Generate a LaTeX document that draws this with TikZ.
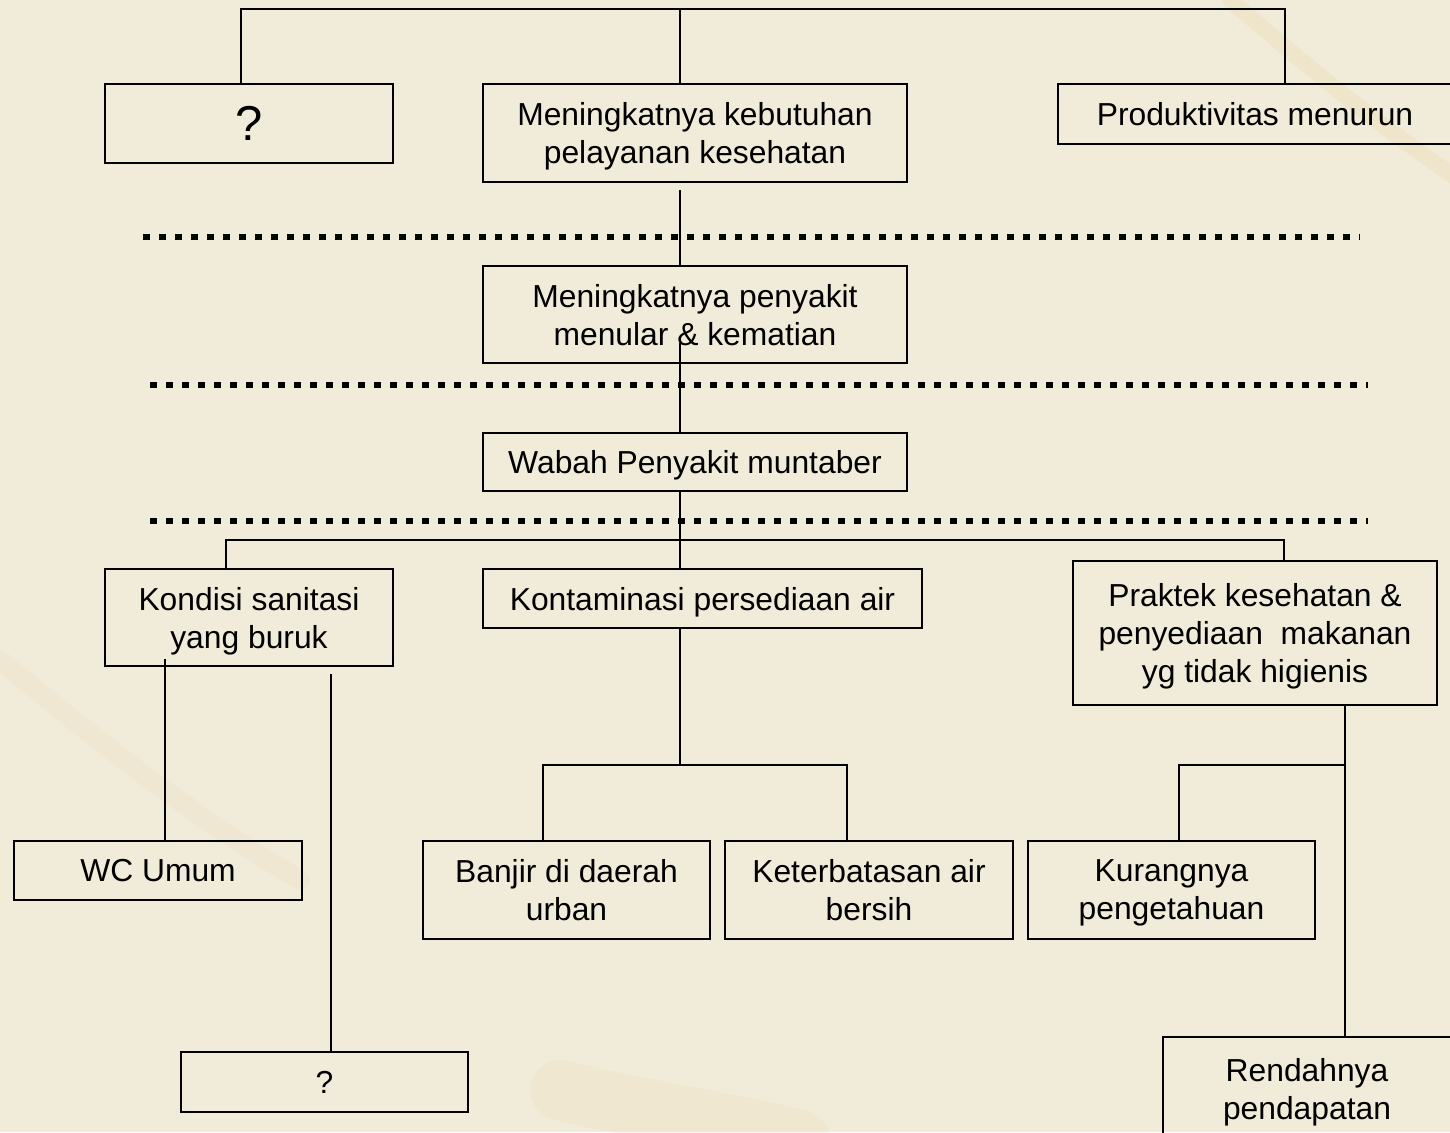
\documentclass[tikz,border=0pt]{standalone}
\usepackage{fontspec}
\setmainfont{Liberation Sans}
\usepackage{xcolor}
\usetikzlibrary{positioning, calc}
\definecolor{paper}{RGB}{241,235,217}
\definecolor{vein}{RGB}{233,205,150}

\begin{document}
\begin{tikzpicture}[x=0.5pt, y=-0.5pt, line width=1pt,
    box/.style={rectangle, draw=black, inner sep=0pt, align=center, text depth=0pt,
        font=\fontsize{15.9}{19}\selectfont},
    sep/.style={line width=3.3pt, dash pattern=on 3.3pt off 4.7pt}]
    % paper background
    \clip (0,0) rectangle (1450,1132);
    \fill[paper] (0,0) rectangle (1450,1132);
    \draw[vein, line width=8pt, opacity=0.2, line cap=round] (1230,0) .. controls (1300,60) and (1370,120) .. (1460,180);
    \draw[vein, line width=10pt, opacity=0.1, line cap=round] (0,660) .. controls (120,760) and (200,820) .. (300,880);
    \draw[vein, line width=30pt, opacity=0.12, line cap=round] (560,1090) .. controls (640,1110) and (720,1120) .. (800,1140);

    % top level
    \node[box, minimum width=144pt, minimum height=39.5pt, font=\fontsize{24.5}{29}\selectfont] (q1) at (249,123.5) {?};
    \node[box, minimum width=212pt, minimum height=49pt] (keb) at (695,133) {Meningkatnya kebutuhan\\pelayanan kesehatan};
    \node[box, minimum width=197pt, minimum height=30pt] (prod) at (1255,114) {Produktivitas menurun};

    % middle
    \node[box, minimum width=212pt, minimum height=48.5pt] (pen) at (695,314.5) {Meningkatnya penyakit\\menular \& kematian};
    \node[box, minimum width=212pt, minimum height=29pt] (wab) at (695,462) {Wabah Penyakit muntaber};

    % causes
    \node[box, minimum width=144pt, minimum height=48.5pt] (kon) at (249,617.5) {Kondisi sanitasi\\yang buruk};
    \node[box, minimum width=219.5pt, minimum height=29.5pt] (kont) at (702.5,598.5) {Kontaminasi persediaan air};
    \node[box, minimum width=182pt, minimum height=72pt] (pra) at (1255,633) {Praktek kesehatan \&\\penyediaan \ makanan\\yg tidak higienis};

    % root causes
    \node[box, minimum width=144pt, minimum height=29.5pt] (wc) at (158,870.5) {WC Umum};
    \node[box, minimum width=143.5pt, minimum height=49pt] (banjir) at (566.5,890) {Banjir di daerah\\urban};
    \node[box, minimum width=144pt, minimum height=49pt] (ket) at (869,890) {Keterbatasan air\\bersih};
    \node[box, minimum width=143.5pt, minimum height=49pt] (kur) at (1171.5,890) {Kurangnya\\pengetahuan};
    \node[box, minimum width=143.5pt, minimum height=30pt] (q2) at (324.5,1082) {?};
    \node[box, minimum width=144pt, minimum height=51.5pt] (ren) at (1307,1088.5) {Rendahnya\\pendapatan};

    % level separators
    \draw[sep] (143,237) -- (1360,237);
    \draw[sep] (150,385) -- (1368,385);
    \draw[sep] (150,521) -- (1368,521);

    % connectors
    \coordinate (top) at (680,9);
    \coordinate (k0) at (680,190);
    \coordinate (k1) at (680,343);
    \coordinate (bus) at (680,540);
    \draw ([xshift=-4pt]q1.north) |- (top) -| ([xshift=15pt]prod.north);
    \draw (top) -- (keb.north -| top);
    \draw (k0) -- (pen.north -| k0);
    \draw (k1) -- (wab.north -| k1);
    \draw (wab.south -| bus) -- (bus);
    \draw ([xshift=-11.5pt]kon.north) |- (bus) -| ([xshift=14.5pt]pra.north);
    \draw (bus) -- (kont.north -| bus);

    \coordinate (san1) at (165,659);
    \coordinate (san2) at (331,674);
    \draw (san1) -- (wc.north -| san1);
    \draw (san2) -- (q2.north -| san2);

    \coordinate (air) at (680,765);
    \draw (kont.south -| air) -- (air);
    \draw ([xshift=-11.75pt]banjir.north) |- (air) -| ([xshift=-11pt]ket.north);

    \coordinate (hyg) at (1345,765);
    \draw (pra.south -| hyg) -- (ren.north -| hyg);
    \draw ([xshift=3.75pt]kur.north) |- (hyg);
\end{tikzpicture}
\end{document}
